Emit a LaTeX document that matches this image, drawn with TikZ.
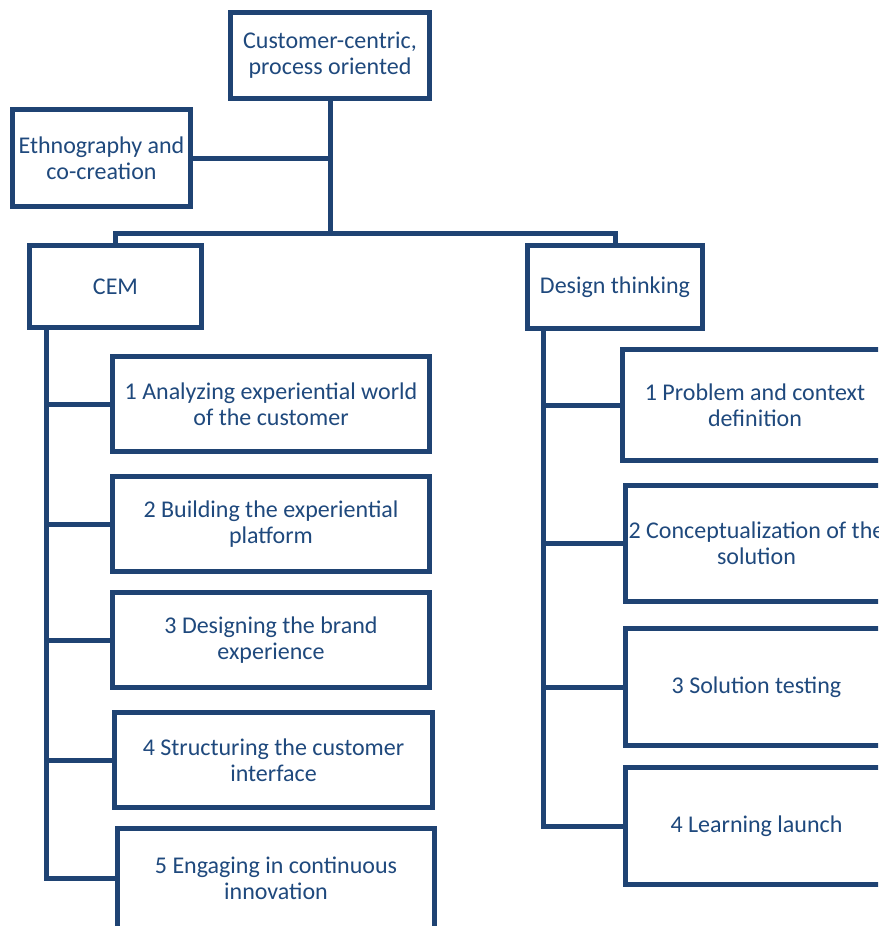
\documentclass[tikz,border=0pt]{standalone}
\usepackage{fontspec}
\setmainfont{Carlito}
\definecolor{framecol}{HTML}{1F4373}
\definecolor{textcol}{HTML}{1F497D}
\tikzset{
  box/.style={draw=framecol, line width=5pt, fill=white, inner sep=0pt,
    align=center, text=textcol, font=\fontsize{24}{26}\selectfont},
  link/.style={draw=framecol, line width=5pt, line join=miter}
}
\begin{document}
\begin{tikzpicture}[x=1pt,y=-1pt]
\useasboundingbox (0,0) rectangle (878,926);
\clip (0,0) rectangle (878,926);

% top level
\node[box, minimum width=199pt, minimum height=86pt] (top) at (330,55.5) {Customer-centric,\\process oriented};
\node[box, minimum width=178pt, minimum height=97pt] (eth) at (101.5,158) {Ethnography and\\co-creation};

% second level
\node[box, minimum width=172pt, minimum height=82pt] (cem) at (115.5,286.5) {CEM};
\node[box, minimum width=175pt, minimum height=83pt] (dt) at (615,287) {Design thinking};

% CEM steps
\node[box, minimum width=317pt, minimum height=95pt] (c1) at (271,404) {1 Analyzing experiential world\\of the customer};
\node[box, minimum width=317pt, minimum height=95pt] (c2) at (271,524) {2 Building the experiential\\platform};
\node[box, minimum width=317pt, minimum height=95pt] (c3) at (271,640) {3 Designing the brand\\experience};
\node[box, minimum width=318pt, minimum height=95pt] (c4) at (273.5,760) {4 Structuring the customer\\interface};
\node[box, minimum width=317pt, minimum height=100pt] (c5) at (276,878.5) {5 Engaging in continuous\\innovation};

% design thinking steps
\node[box, minimum width=265pt, minimum height=111pt] (d1) at (755,405) {1 Problem and context\\definition};
\node[box, minimum width=262pt, minimum height=116pt] (d2) at (756.5,543.5) {2 Conceptualization of the\\solution};
\node[box, minimum width=262pt, minimum height=117pt] (d3) at (756.5,687) {3 Solution testing};
\node[box, minimum width=262pt, minimum height=117pt] (d4) at (756.5,826) {4 Learning launch};

% rails and junctions
\coordinate (bus) at (330,233);
\coordinate (cemrail) at (46,330);
\coordinate (dtrail) at (543,331);

\draw[link] (top.south) -- (top.south |- bus);
\draw[link] (eth.east) -- (eth.east -| bus);
\draw[link] (cem.north) |- (bus) -| (dt.north);

\draw[link] (cemrail) |- (c5.west);
\foreach \n in {c1,c2,c3,c4}
  \draw[link] (cemrail |- \n.west) -- (\n.west);

\draw[link] (dtrail) |- (d4.west);
\foreach \n in {d1,d2,d3}
  \draw[link] (dtrail |- \n.west) -- (\n.west);
\end{tikzpicture}
\end{document}
